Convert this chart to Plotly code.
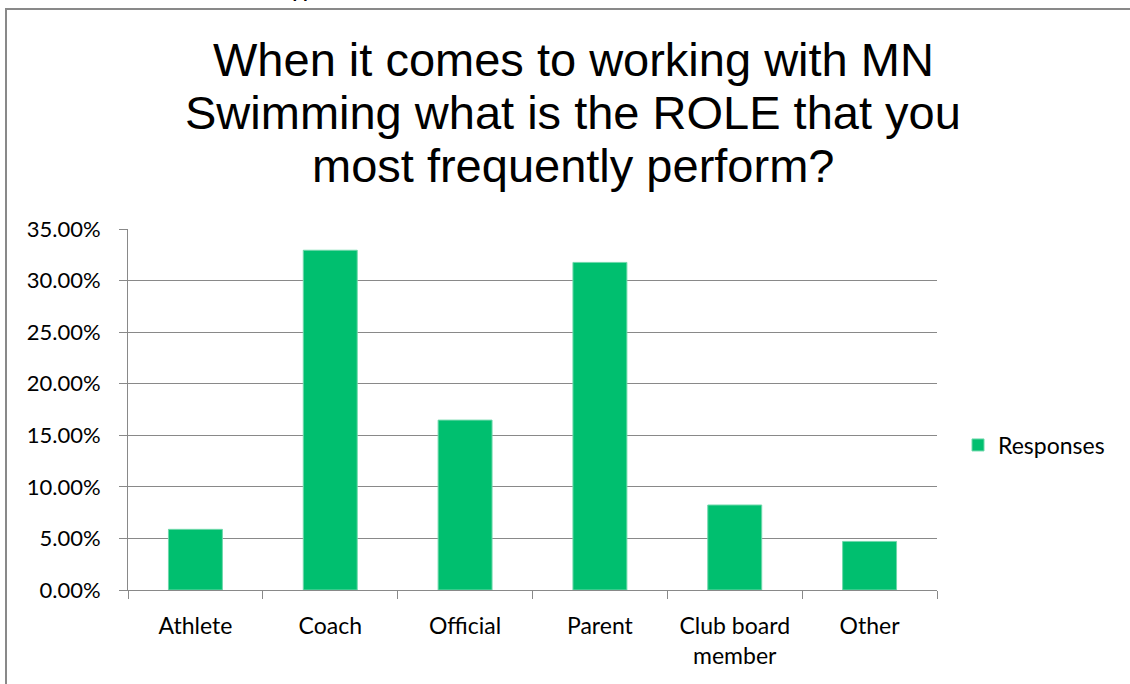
import plotly.graph_objects as go

categories = ["Athlete", "Coach", "Official", "Parent", "Club board member", "Other"]
tick_labels = ["Athlete", "Coach", "Official", "Parent", "Club board<br>member", "Other"]
responses = [0.0588, 0.3294, 0.1647, 0.3176, 0.0824, 0.0471]
y_ticks = [0, 0.05, 0.10, 0.15, 0.20, 0.25, 0.30, 0.35]

title_lines = ["When it comes to working with MN",
               "Swimming what is the ROLE that you",
               "most frequently perform?"]
top_labels = ["<b>Skipped</b>", "<b>11</b>"]

GREEN = "#00BF6F"
GRAY = "#898989"
W, H = 1130, 684
L, R, T, B = 128, 193, 229, 94
pw, ph = W - L - R, H - T - B


def px_x(px):
    return (px - L) / pw


def px_y(py):
    return (H - B - py) / ph


fig = go.Figure()
fig.add_trace(go.Bar(
    x=categories, y=responses, name="Responses",
    marker=dict(color=GREEN, line=dict(color="#6fd8ab", width=1)),
    showlegend=True,
))

annotations = []
for i, line in enumerate(title_lines):
    annotations.append(dict(
        text=line, xref="paper", yref="paper",
        x=px_x(573), y=px_y(59 + 53.5 * i), xanchor="center", yanchor="middle",
        showarrow=False,
        font=dict(family="Liberation Sans, Arial, sans-serif", size=47, color="#000000"),
    ))
for txt, xp in zip(top_labels, [300, 606]):
    annotations.append(dict(
        text=txt, xref="paper", yref="paper",
        x=px_x(xp), y=px_y(-8), xanchor="center", yanchor="middle",
        showarrow=False,
        font=dict(family="Liberation Sans, Arial, sans-serif", size=17, color="#000000"),
    ))

fig.update_layout(
    width=W, height=H,
    margin=dict(l=L, r=R, t=T, b=B, pad=0),
    paper_bgcolor="white", plot_bgcolor="white",
    bargap=0.6,
    font=dict(family="Lato, Calibri, sans-serif", size=22, color="#000000"),
    showlegend=True,
    legend=dict(
        x=px_x(958), xanchor="left", y=px_y(445), yanchor="middle",
        font=dict(family="Lato, Calibri, sans-serif", size=23, color="#000000"),
        bgcolor="rgba(0,0,0,0)",
    ),
    xaxis=dict(
        tickmode="array", tickvals=categories, ticktext=tick_labels,
        tickson="boundaries", ticks="outside", ticklen=8, tickcolor=GRAY, tickwidth=1,
        showline=True, linecolor=GRAY, linewidth=1,
        showgrid=False, zeroline=False,
        ticklabelstandoff=15,
        tickfont=dict(family="Lato, Calibri, sans-serif", size=23, color="#000000"),
    ),
    yaxis=dict(
        range=[0, 0.35], tickvals=y_ticks, tickformat=".2%",
        ticks="outside", ticklen=8, tickcolor=GRAY, tickwidth=1,
        showline=True, linecolor=GRAY, linewidth=1,
        showgrid=True, gridcolor=GRAY, gridwidth=1,
        zeroline=False,
        ticklabelstandoff=14,
        tickfont=dict(family="Lato, Calibri, sans-serif", size=22, color="#000000"),
    ),
    shapes=[
        dict(type="rect", xref="paper", yref="paper",
             x0=px_x(6), x1=px_x(1200), y0=px_y(760), y1=px_y(9),
             line=dict(color=GRAY, width=2), fillcolor="rgba(0,0,0,0)", layer="below"),
    ],
    annotations=annotations,
)

fig.write_html("out.html", config={"displayModeBar": False},
               post_script="document.body.style.margin='0';document.body.style.padding='0';")
